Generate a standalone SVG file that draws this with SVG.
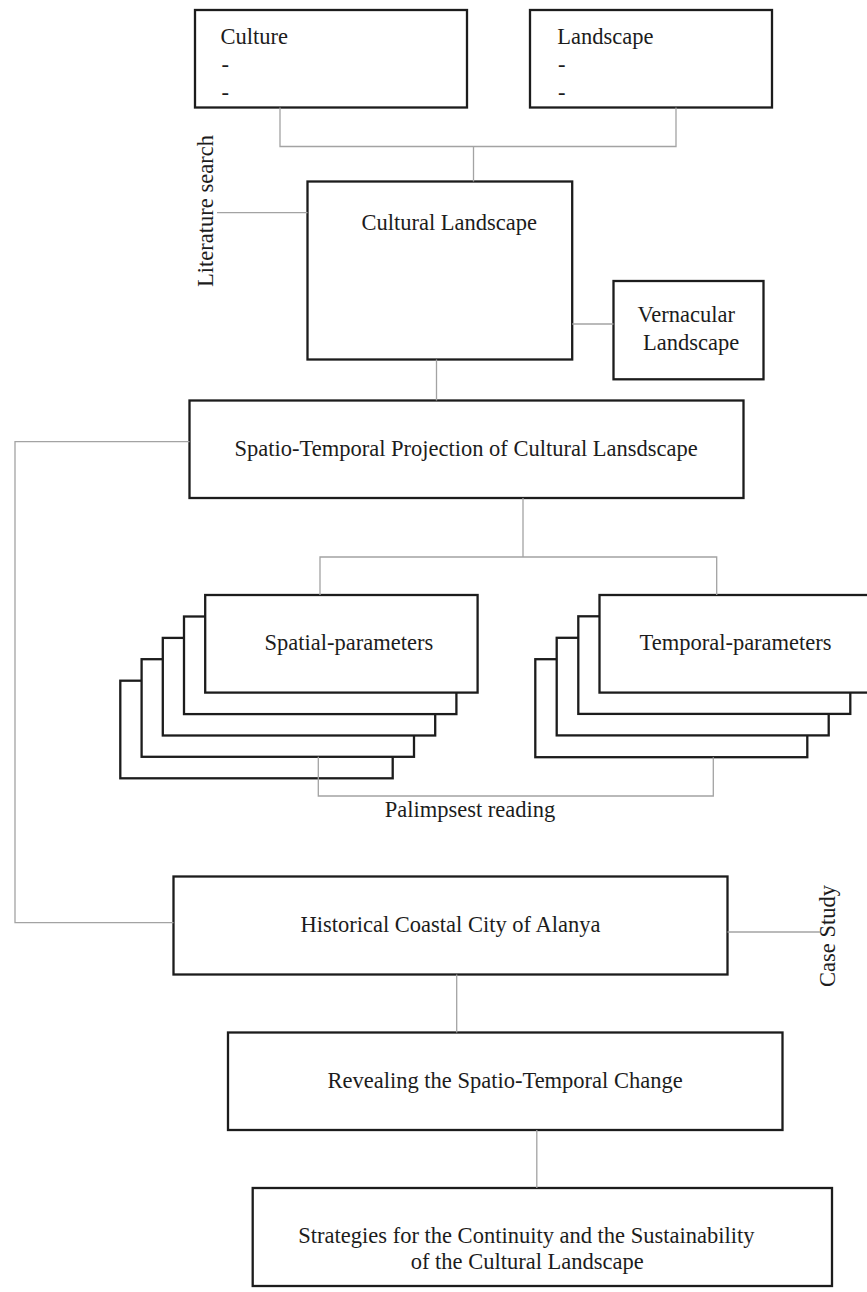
<svg xmlns="http://www.w3.org/2000/svg" width="867" height="1292" viewBox="0 0 867 1292">
  <style>
    .box { fill: #ffffff; stroke: #1c1c1c; stroke-width: 2.3; }
    .link { fill: none; stroke: #a3a3a3; stroke-width: 1.3; }
    .lbl { font-family: "Liberation Serif", "Times New Roman", serif; font-size: 22.5px; fill: #1c1c1c; }
  </style>
  <rect x="0" y="0" width="867" height="1292" fill="#ffffff"/>

  <!-- top sources -->
  <g id="node-culture">
    <rect class="box" x="195" y="10" width="272" height="97.5"/>
    <text class="lbl" x="220.5" y="44">Culture</text>
    <text class="lbl" x="221.5" y="72">-</text>
    <text class="lbl" x="221.5" y="100">-</text>
  </g>
  <g id="node-landscape">
    <rect class="box" x="530" y="10" width="242" height="97.5"/>
    <text class="lbl" x="557.3" y="44">Landscape</text>
    <text class="lbl" x="558" y="72">-</text>
    <text class="lbl" x="558" y="100">-</text>
  </g>

  <g id="node-cultural-landscape">
    <rect class="box" x="307.5" y="181.5" width="264.7" height="178"/>
    <text class="lbl" x="361.5" y="230">Cultural Landscape</text>
  </g>

  <g id="node-vernacular">
    <rect class="box" x="613.5" y="281" width="150" height="98.3"/>
    <text class="lbl" x="637.5" y="321.7">Vernacular</text>
    <text class="lbl" x="643" y="350">Landscape</text>
  </g>

  <g id="node-projection">
    <rect class="box" x="189.5" y="400.5" width="554" height="97.5"/>
    <text class="lbl" x="234.5" y="455.5">Spatio-Temporal Projection of Cultural Lansdscape</text>
  </g>

  <!-- stacked sheets, drawn back to front -->
  <g id="node-spatial">
    <rect class="box" x="120.3" y="680.7" width="272.4" height="97.6"/>
    <rect class="box" x="141.6" y="659.2" width="272.4" height="97.6"/>
    <rect class="box" x="162.8" y="637.9" width="272.4" height="97.6"/>
    <rect class="box" x="184.0" y="616.5" width="272.4" height="97.6"/>
    <rect class="box" x="205.2" y="595.0" width="272.4" height="97.6"/>
    <text class="lbl" x="264.5" y="650">Spatial-parameters</text>
  </g>

  <g id="node-temporal">
    <rect class="box" x="535.3" y="659.2" width="272" height="98"/>
    <rect class="box" x="556.7" y="637.8" width="272" height="97.6"/>
    <rect class="box" x="578.3" y="616.3" width="272" height="97.6"/>
    <rect class="box" x="599.5" y="595.0" width="272" height="97.6"/>
    <text class="lbl" x="639.5" y="650">Temporal-parameters</text>
  </g>

  <g id="node-alanya">
    <rect class="box" x="173.5" y="876.5" width="554" height="98"/>
    <text class="lbl" x="300.5" y="931.5">Historical Coastal City of Alanya</text>
  </g>

  <g id="node-change">
    <rect class="box" x="228" y="1032.5" width="554.5" height="97.5"/>
    <text class="lbl" x="327.5" y="1088">Revealing the Spatio-Temporal Change</text>
  </g>

  <g id="node-strategies">
    <rect class="box" x="252.7" y="1188" width="579.3" height="98"/>
    <text class="lbl" x="298.3" y="1242.5">Strategies for the Continuity and the Sustainability</text>
    <text class="lbl" x="410.7" y="1269">of the Cultural Landscape</text>
  </g>

  <!-- side and connector labels -->
  <g id="labels">
    <text class="lbl" text-anchor="middle" transform="translate(212.5 211) rotate(-90)">Literature search</text>
    <text class="lbl" text-anchor="middle" x="470" y="817">Palimpsest reading</text>
    <text class="lbl" text-anchor="middle" transform="translate(835 936) rotate(-90)">Case Study</text>
  </g>

  <!-- connectors -->
  <g id="connectors">
    <polyline class="link" points="280,107.5 280,146.5 676,146.5 676,107.5"/>
    <line class="link" x1="473.5" y1="146.5" x2="473.5" y2="181.5"/>
    <line class="link" x1="217" y1="212.7" x2="307.5" y2="212.7"/>
    <line class="link" x1="572.2" y1="324" x2="613.5" y2="324"/>
    <line class="link" x1="436.5" y1="359.5" x2="436.5" y2="400.5"/>
    <line class="link" x1="523" y1="498" x2="523" y2="557"/>
    <polyline class="link" points="320,595 320,557 716.7,557 716.7,595"/>
    <polyline class="link" points="318.3,756.8 318.3,796 713.3,796 713.3,757.3"/>
    <polyline class="link" points="189.5,441.7 15,441.7 15,922.7 173.5,922.7"/>
    <line class="link" x1="727.5" y1="932" x2="820" y2="932"/>
    <line class="link" x1="456.7" y1="974.5" x2="456.7" y2="1032.5"/>
    <line class="link" x1="536.8" y1="1130" x2="536.8" y2="1188"/>
  </g>
</svg>
